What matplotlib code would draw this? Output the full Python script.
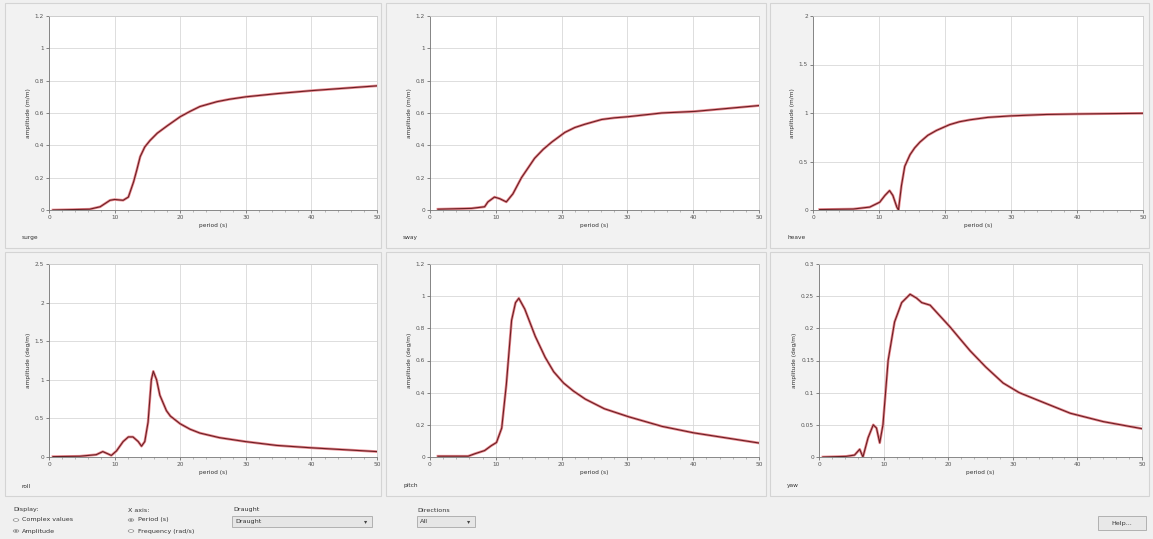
import numpy as np
import matplotlib.pyplot as plt
from matplotlib.patches import Rectangle, Circle

# RAO curves, period (s) vs amplitude
surge_t = [0.6, 6.2, 7.8, 9.3, 10.0, 11.3, 12.1, 12.9, 13.4, 13.9, 14.6, 15.4, 16.5, 18.0, 20.0, 21.5, 23.0, 25.6, 27.5, 30.0, 34.8, 39.9, 50.0]
surge_a = [0.0, 0.005, 0.02, 0.06, 0.065, 0.06, 0.08, 0.175, 0.25, 0.33, 0.39, 0.43, 0.475, 0.52, 0.577, 0.61, 0.64, 0.67, 0.685, 0.70, 0.72, 0.738, 0.768]

sway_t = [1.2, 6.3, 8.3, 8.8, 9.8, 10.6, 11.6, 12.6, 13.9, 15.9, 17.2, 18.5, 20.5, 22.0, 23.5, 26.1, 28.0, 30.1, 35.2, 40.3, 50.0]
sway_a = [0.005, 0.01, 0.02, 0.05, 0.08, 0.07, 0.05, 0.1, 0.2, 0.32, 0.375, 0.42, 0.48, 0.51, 0.53, 0.56, 0.57, 0.577, 0.60, 0.61, 0.646]

heave_t = [1.0, 6.1, 8.6, 10.1, 10.9, 11.6, 12.1, 12.7, 12.95, 13.4, 13.9, 14.7, 15.4, 16.2, 17.4, 18.7, 20.7, 22.2, 23.8, 26.5, 29.9, 35.4, 40.0, 50.0]
heave_a = [0.005, 0.01, 0.03, 0.08, 0.15, 0.2, 0.15, 0.03, 0.0, 0.25, 0.45, 0.57, 0.64, 0.70, 0.77, 0.82, 0.88, 0.91, 0.93, 0.955, 0.97, 0.985, 0.99, 0.997]

roll_t = [0.6, 4.7, 7.2, 8.2, 9.0, 9.5, 10.3, 11.3, 12.1, 12.8, 13.6, 14.1, 14.6, 15.1, 15.6, 15.9, 16.4, 16.9, 17.9, 18.5, 20.0, 21.5, 23.0, 26.0, 29.9, 34.7, 39.8, 50.0]
roll_a = [0.005, 0.01, 0.03, 0.07, 0.04, 0.02, 0.08, 0.2, 0.26, 0.26, 0.2, 0.14, 0.2, 0.45, 1.0, 1.11, 1.0, 0.8, 0.6, 0.53, 0.43, 0.36, 0.31, 0.25, 0.2, 0.15, 0.12, 0.07]

pitch_t = [1.2, 5.8, 6.8, 8.3, 9.3, 10.1, 10.9, 11.6, 12.4, 13.0, 13.5, 14.4, 16.0, 17.5, 18.8, 20.3, 21.8, 23.6, 26.5, 30.2, 35.3, 40.1, 50.0]
pitch_a = [0.005, 0.005, 0.02, 0.04, 0.07, 0.09, 0.18, 0.45, 0.85, 0.96, 0.987, 0.92, 0.75, 0.62, 0.53, 0.46, 0.41, 0.36, 0.30, 0.25, 0.19, 0.15, 0.087]

yaw_t = [0.6, 4.2, 5.5, 6.3, 6.8, 7.6, 8.4, 8.9, 9.4, 9.9, 10.7, 11.7, 12.8, 14.1, 15.1, 15.9, 17.2, 18.2, 20.3, 21.8, 23.4, 25.8, 28.5, 31.0, 33.7, 38.9, 44.0, 50.0]
yaw_a = [0.0, 0.001, 0.003, 0.012, 0.0, 0.03, 0.05, 0.045, 0.022, 0.05, 0.15, 0.21, 0.24, 0.253, 0.247, 0.24, 0.236, 0.225, 0.202, 0.184, 0.165, 0.14, 0.115, 0.1, 0.089, 0.068, 0.055, 0.044]

names = ['surge', 'sway', 'heave', 'roll', 'pitch', 'yaw']
ylabels = ['amplitude (m/m)'] * 3 + ['amplitude (deg/m)'] * 3
ymax = [1.2, 1.2, 2, 2.5, 1.2, 0.3]
ystep = [0.2, 0.2, 0.5, 0.5, 0.2, 0.05]
xticks = [0, 10, 20, 30, 40, 50]

series = [(surge_t, surge_a), (sway_t, sway_a), (heave_t, heave_a),
          (roll_t, roll_a), (pitch_t, pitch_a), (yaw_t, yaw_a)]

W, H = 1153, 539
fig = plt.figure(figsize=(W / 100, H / 100), dpi=100)
fig.patch.set_facecolor('#f0f0f0')

def fx(px):
    return px / W

def fy(py):
    return 1 - py / H

# panel frames (pixels: left, top, right, bottom)
frames = [(5, 3, 381, 248), (386, 3, 766, 248), (770, 3, 1149, 248),
          (5, 252, 381, 496), (386, 252, 766, 496), (770, 252, 1149, 496)]
for l, t, r, b in frames:
    fig.patches.append(Rectangle((fx(l), fy(b)), fx(r - l), (b - t) / H,
                                 transform=fig.transFigure, facecolor='#f2f2f2',
                                 edgecolor='#d4d4d4', lw=0.8, zorder=-5))

# axes boxes (pixels: left, top, right, bottom)
boxes = [(49, 16, 377, 210), (430, 16, 759, 210), (813, 16, 1143, 210),
         (49, 264, 377, 457), (430, 264, 759, 457), (819, 264, 1142, 457)]

fs = 4.2
for i, (l, t, r, b) in enumerate(boxes):
    ax = fig.add_axes([fx(l), fy(b), fx(r - l), (b - t) / H])
    ax.set_zorder(2)
    ax.set_facecolor('white')
    x, y = series[i]
    ax.plot(x, y, color='#e8898f', lw=1.9, solid_joinstyle='round')
    ax.plot(x, y, color='#6b1f24', lw=0.8, solid_joinstyle='round')
    ax.set_xlim(0, 50)
    ax.set_ylim(0, ymax[i])
    ax.set_xticks(xticks)
    ax.set_xticks(np.arange(0, 51, 2), minor=True)
    ax.set_yticks(np.round(np.arange(0, ymax[i] + 1e-9, ystep[i]), 3))
    ax.yaxis.set_major_formatter(plt.FuncFormatter(lambda v, p: ('%g' % v)))
    ax.grid(True, color='#d8d8d8', lw=0.6)
    ax.tick_params(labelsize=fs, length=2, width=0.5, colors='#555555', pad=1.5)
    ax.tick_params(which='minor', length=1.2, width=0.4, colors='#888888')
    for s in ax.spines.values():
        s.set_color('#cccccc')
        s.set_linewidth(0.6)
    ax.spines['left'].set_color('#777777')
    ax.spines['bottom'].set_color('#777777')
    ax.set_xlabel('period (s)', fontsize=fs, labelpad=2, color='#333333')
    ax.set_ylabel(ylabels[i], fontsize=fs, labelpad=3, color='#333333')
    fig.text(fx(frames[i][0] + 17), fy(frames[i][3] - 10), names[i],
             fontsize=fs, color='#333333', va='center')

# control strip at the bottom
tc = '#333333'
cfs = 4.6
fig.text(fx(13), fy(510), 'Display:', fontsize=cfs, color=tc, va='center')
fig.text(fx(22), fy(520), 'Complex values', fontsize=cfs, color=tc, va='center')
fig.text(fx(22), fy(531), 'Amplitude', fontsize=cfs, color=tc, va='center')
fig.text(fx(128), fy(510), 'X axis:', fontsize=cfs, color=tc, va='center')
fig.text(fx(138), fy(520), 'Period (s)', fontsize=cfs, color=tc, va='center')
fig.text(fx(138), fy(531), 'Frequency (rad/s)', fontsize=cfs, color=tc, va='center')
for cx, cy, on in [(16, 520, False), (16, 531, True), (131, 520, True), (131, 531, False)]:
    fig.patches.append(Circle((fx(cx), fy(cy)), 2.8 / W, transform=fig.transFigure,
                              facecolor='white', edgecolor='#888888', lw=0.5))
    if on:
        fig.patches.append(Circle((fx(cx), fy(cy)), 1.3 / W, transform=fig.transFigure,
                                  facecolor='#444444', edgecolor='none'))

fig.text(fx(233), fy(510), 'Draught', fontsize=cfs, color=tc, va='center')
fig.patches.append(Rectangle((fx(232), fy(527)), fx(140), 11 / H, transform=fig.transFigure,
                             facecolor='#e6e6e6', edgecolor='#a8a8a8', lw=0.6))
fig.text(fx(235), fy(521.5), 'Draught', fontsize=cfs, color=tc, va='center')
fig.text(fx(366), fy(521.5), '▾', fontsize=cfs, color='#444444', va='center', ha='center')

fig.text(fx(417), fy(510), 'Directions', fontsize=cfs, color=tc, va='center')
fig.patches.append(Rectangle((fx(417), fy(527)), fx(58), 11 / H, transform=fig.transFigure,
                             facecolor='#e6e6e6', edgecolor='#a8a8a8', lw=0.6))
fig.text(fx(420), fy(521.5), 'All', fontsize=cfs, color=tc, va='center')
fig.text(fx(469), fy(521.5), '▾', fontsize=cfs, color='#444444', va='center', ha='center')

fig.patches.append(Rectangle((fx(1098), fy(530)), fx(48), 14 / H, transform=fig.transFigure,
                             facecolor='#e8e8e8', edgecolor='#a8a8a8', lw=0.6))
fig.text(fx(1122), fy(523), 'Help...', fontsize=cfs, color=tc, va='center', ha='center')

fig.savefig('out.png', dpi=100, facecolor=fig.get_facecolor())
